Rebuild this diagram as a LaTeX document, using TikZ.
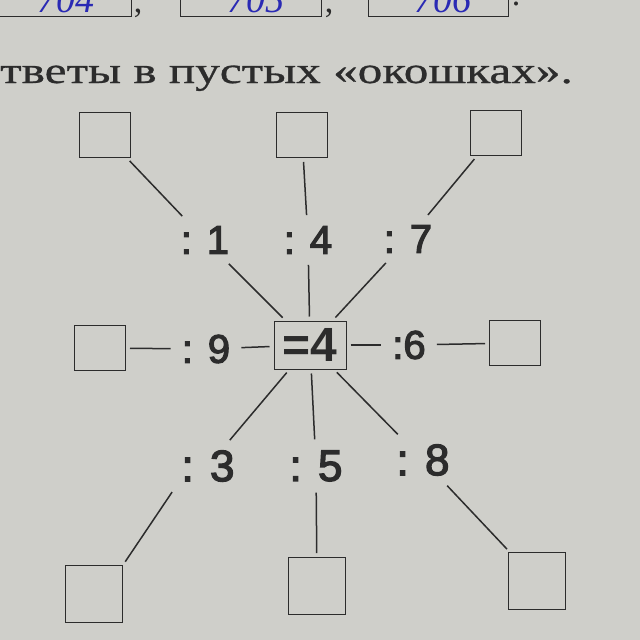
\documentclass[tikz,border=0pt]{standalone}
\usepackage{fontspec}
\setmainfont{Liberation Serif}
\newfontfamily\taskfont[FakeStretch=1.33, FakeBold=0.8]{Liberation Serif}
\newfontfamily\numfont[FakeBold=3]{Liberation Sans}
\newfontfamily\resfont{Liberation Sans}
\usepackage{xcolor}
\definecolor{paper}{HTML}{CFCFCA}
\definecolor{ink}{HTML}{2C2C2C}
\definecolor{pen}{HTML}{2A2AB4}

\tikzset{
  window/.style={draw=ink, line width=1pt, minimum width=51pt, minimum height=45pt, inner sep=0pt},
  bigwindow/.style={window, minimum width=57pt, minimum height=57pt},
  divlabel/.style={font=\numfont\fontsize{40}{40}\selectfont, text=ink, inner sep=7pt},
  biglabel/.style={divlabel, font=\numfont\fontsize{44}{44}\selectfont},
  link/.style={draw=ink, line width=1.5pt, shorten <=4pt, shorten >=4pt}
}

\begin{document}
\begin{tikzpicture}[x=1pt, y=-1pt]
        % Page
        \fill[paper] (0,0) rectangle (640,640);
        \clip (0,0) rectangle (640,640);

        % Answers of the previous task (cut off at the top)
        \foreach \xa/\xb/\n in {-10/131/704, 180/321/705, 368/508/706} {
            \draw[ink, line width=1pt] (\xa,-30) rectangle (\xb,16);
            \node[anchor=base, text=pen, font=\itshape\fontsize{38}{38}\selectfont, inner sep=0pt]
                at ({(\xa+\xb)/2+5},12) {\n};
        }
        \node[anchor=base, text=ink, font=\fontsize{34}{34}\selectfont, inner sep=0pt] at (138,12) {,};
        \node[anchor=base, text=ink, font=\fontsize{34}{34}\selectfont, inner sep=0pt] at (329,12) {,};
        \node[anchor=base, text=ink, font=\fontsize{34}{34}\selectfont, inner sep=0pt] at (516,5) {.};

        % Task text
        \node[anchor=base west, inner sep=0pt, text=ink, font=\taskfont\fontsize{37}{37}\selectfont] (task) at (0,83)
            {тветы в пустых «окошках».};

        % Result in the middle
        \node[draw=ink, line width=1pt, text=ink, font=\resfont\bfseries\fontsize{48}{48}\selectfont,
            minimum width=72pt, minimum height=48pt, inner sep=0pt] (res) at (310,345) {=4};

        % Divisors
        \foreach \n/\x/\y/\t in {l1/205/240/{: 1}, l2/308/240/{: 4}, l3/408/239/{: 7},
                                  l4/206/349/{: 9}, l6/409/345/{:6}} {
            \node[divlabel] (\n) at (\x,\y) {\t};
        }
        \foreach \n/\x/\y/\t in {l7/208/466/{: 3}, l8/316/466/{: 5}, l9/423/460/{: 8}} {
            \node[biglabel] (\n) at (\x,\y) {\t};
        }

        % Empty windows
        \foreach \n/\x/\y in {b1/105/135, b2/302/135, b3/496/133, b4/100/348, b6/515/343} {
            \node[window] (\n) at (\x,\y) {};
        }
        \foreach \n/\x/\y in {b7/94/594, b8/317/586, b9/537/581} {
            \node[bigwindow] (\n) at (\x,\y) {};
        }

        % Connections
        \foreach \a/\b in {b1/l1, b2/l2, b3/l3, l1/res, l2/res, l3/res,
                           b4/l4, l4/res, res/l6, l6/b6,
                           res/l7, res/l8, res/l9, l8/b8, l9/b9} {
            \draw[link] (\a) -- (\b);
        }
        \draw[link] (l7.south west) -- (b7.north east);
    \end{tikzpicture}
\end{document}
